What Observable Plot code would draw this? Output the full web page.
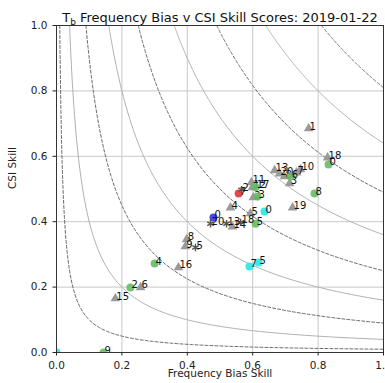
<!DOCTYPE html>
<html>
<head>
<meta charset="utf-8">
<script src="https://cdn.jsdelivr.net/npm/d3@7"></script>
<script src="https://cdn.jsdelivr.net/npm/@observablehq/plot@0.6"></script>
<style>
  html, body { margin: 0; padding: 0; background: #fff; }
  svg { font-family: "DejaVu Sans", sans-serif; }
</style>
</head>
<body>
<div id="chart"></div>
<script>
// ---- data ----
const titleText = "Tb Frequency Bias v CSI Skill Scores: 2019-01-22";
const xLabel = "Frequency Bias Skill";
const yLabel = "CSI Skill";
const tickValues = [0, 0.2, 0.4, 0.6, 0.8, 1.0];

// reference contour levels (k^2 = bias * csi), alternating dashed / solid
const dashedK = [0.1, 0.3, 0.5, 0.7, 0.9];
const solidK = [0.2, 0.4, 0.6, 0.8];

// gray triangles
const triLabels = ["1","18","13","20","8","7","10","3","19","11","12","2","4","5","14","8","9","16","6","15"];
const triX = [0.771,0.829,0.667,0.682,0.697,0.734,0.746,0.713,0.722,0.596,0.599,0.602,0.532,0.593,0.538,0.398,0.394,0.373,0.257,0.180];
const triY = [0.685,0.596,0.557,0.547,0.538,0.550,0.560,0.517,0.443,0.520,0.505,0.474,0.443,0.425,0.385,0.346,0.324,0.260,0.199,0.165];

// green circles
const greenLabels = ["0","8","6","17","3","5","4","2","9"];
const greenX = [0.832,0.789,0.716,0.609,0.615,0.609,0.300,0.226,0.144];
const greenY = [0.575,0.486,0.538,0.505,0.477,0.394,0.272,0.199,0.0];

// red circle
const redLabels = ["7"];
const redX = [0.557];
const redY = [0.486];

// blue circle
const blueLabels = ["0"];
const blueX = [0.480];
const blueY = [0.413];

// cyan circles
const cyanLabels = ["0","7","5",""];
const cyanX = [0.636,0.590,0.618,0.0];
const cyanY = [0.431,0.263,0.275,0.0];

// dark stars
const starLabels = ["20","13","18","5","2"];
const starX = [0.471,0.520,0.563,0.425,0.566];
const starY = [0.394,0.394,0.398,0.321,0.498];

// ---- build tables ----
const rows = (labels, xs, ys) => labels.map((l, i) => ({label: l, x: xs[i], y: ys[i]}));
const tri = rows(triLabels, triX, triY);
const green = rows(greenLabels, greenX, greenY);
const red = rows(redLabels, redX, redY);
const blue = rows(blueLabels, blueX, blueY);
const cyan = rows(cyanLabels, cyanX, cyanY);
const stars = rows(starLabels, starX, starY);

const curve = (k) => d3.range(0, 201).map(i => {
  const x0 = k * k;
  const x = x0 + (1 - x0) * Math.pow(i / 200, 2);
  return {k, x, y: (k * k) / x};
});
const dashedLines = dashedK.flatMap(curve);
const solidLines = solidK.flatMap(curve);

const labelOpts = (d) => Plot.text(d, {x: "x", y: "y", text: "label", textAnchor: "start", lineAnchor: "bottom", dx: 1, dy: 1, fontSize: 10, fill: "#111", clip: true});

const plot = Plot.plot({
  width: 385,
  height: 383,
  marginTop: 25,
  marginLeft: 56,
  marginRight: 2,
  marginBottom: 31,
  style: {fontFamily: "DejaVu Sans, sans-serif", fontSize: "10.5px", color: "#222", background: "#fff"},
  x: {domain: [0, 1], ticks: tickValues, tickFormat: ".1f", label: null},
  y: {domain: [0, 1], ticks: tickValues, tickFormat: ".1f", label: null},
  marks: [
    Plot.gridX(tickValues.slice(1, -1), {stroke: "#c8c8c8", strokeOpacity: 1, strokeWidth: 1}),
    Plot.gridY(tickValues.slice(1, -1), {stroke: "#c8c8c8", strokeOpacity: 1, strokeWidth: 1}),
    Plot.line(solidLines, {x: "x", y: "y", z: "k", stroke: "#b0b0b0", strokeWidth: 1, clip: true}),
    Plot.line(dashedLines, {x: "x", y: "y", z: "k", stroke: "#6a6a6a", strokeWidth: 1, strokeDasharray: "3,2", clip: true}),
    Plot.dot(tri, {x: "x", y: "y", symbol: "triangle", r: 3.6, fill: "#9a9a9a", stroke: "none", clip: true}),
    labelOpts(tri),
    Plot.dot(green, {x: "x", y: "y", r: 4, fill: "#66bb66", fillOpacity: 0.9, stroke: "none", clip: true}),
    labelOpts(green),
    Plot.dot(red, {x: "x", y: "y", r: 4, fill: "#e8464a", stroke: "none", clip: true}),
    labelOpts(red),
    Plot.dot(blue, {x: "x", y: "y", r: 4, fill: "#4a4ae8", stroke: "none", clip: true}),
    labelOpts(blue),
    Plot.dot(cyan, {x: "x", y: "y", r: 4, fill: "#3ee8e8", stroke: "none", clip: true}),
    labelOpts(cyan),
    Plot.dot(stars, {x: "x", y: "y", symbol: "asterisk", r: 3.5, stroke: "#555", strokeWidth: 1.4, clip: true}),
    labelOpts(stars),
    Plot.frame({stroke: "#333", strokeWidth: 1}),
    Plot.axisX({ticks: tickValues, tickFormat: ".1f", tickSize: 3.5, label: null, fontSize: 10.5}),
    Plot.axisY({ticks: tickValues, tickFormat: ".1f", tickSize: 3.5, label: null, fontSize: 10.5}),
    Plot.text([xLabel], {frameAnchor: "bottom", dy: 24, fontSize: 10.5, fill: "#222", lineAnchor: "bottom"}),
    Plot.text([yLabel], {frameAnchor: "left", dx: -44, rotate: -90, fontSize: 10.5, fill: "#222"}),
    Plot.text([titleText], {frameAnchor: "top", dy: -4, lineAnchor: "bottom", fontSize: 13, fill: "#111", className: "chart-title"})
  ]
});

// render subscript b in the title as a real tspan
d3.select(plot).selectAll("text").each(function() {
  if (this.textContent === titleText) {
    const t = d3.select(this);
    t.text(null);
    t.append("tspan").text("T");
    t.append("tspan").attr("font-size", "9px").attr("dy", "3").text("b");
    t.append("tspan").attr("dy", "-3").text(" Frequency Bias v CSI Skill Scores: 2019-01-22");
  }
});

document.getElementById("chart").appendChild(plot);
</script>
</body>
</html>
